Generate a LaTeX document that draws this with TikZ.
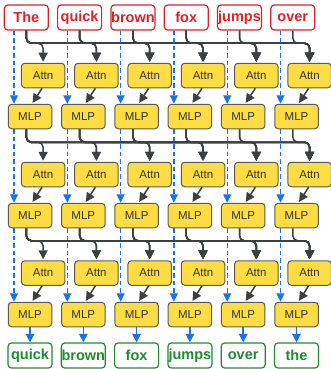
\documentclass[tikz,border=0pt]{standalone}
\usepackage{fontspec}
\setmainfont{Liberation Sans}
\usetikzlibrary{arrows.meta,calc}
\definecolor{tokred}{RGB}{226,32,40}
\definecolor{outgreen}{RGB}{30,140,45}
\definecolor{blkyellow}{RGB}{253,220,68}
\definecolor{blkborder}{RGB}{90,90,90}
\definecolor{linegray}{RGB}{60,64,67}
\definecolor{streamblue}{RGB}{26,115,232}
\tikzset{
  tok/.style={draw=tokred,line width=1.2pt,fill=white,rounded corners=3.5pt,minimum width=44pt,minimum height=25pt,inner sep=0pt,text=tokred,font=\fontsize{14.5}{16}\selectfont\bfseries},
  outbox/.style={tok,draw=outgreen,text=outgreen},
  blk/.style={draw=blkborder,line width=1pt,fill=blkyellow,rounded corners=3.5pt,minimum width=43.5pt,minimum height=24.5pt,inner sep=0pt,text={black!80},font=\fontsize{11.5}{13}\selectfont},
  conn/.style={draw=linegray,line width=1.5pt,rounded corners=5pt,-{Triangle[length=9pt,width=9pt]},shorten >=1pt},
  dsh/.style={draw=streamblue,line width=1.4pt,dash pattern=on 4.5pt off 3pt,-{Triangle[length=8.5pt,width=8pt]}},
  blu/.style={draw=streamblue,line width=1.5pt,-{Triangle[length=8.5pt,width=8.5pt]}}
}
\begin{document}
\begin{tikzpicture}[x=1pt,y=1pt]
\useasboundingbox (0,0) rectangle (330,-369);
\foreach \w [count=\i from 0] in {The,quick,brown,fox,jumps,over} {
  \node[tok] (t\i) at ({26.3+53.3*\i},-17.5) {\w};
}
\foreach \w [count=\i from 0] in {quick,brown,fox,jumps,over,the} {
  \node[outbox] (o\i) at ({30+53.3*\i},-355.5) {\w};
}
\foreach \L/\ya/\ym in {1/-75.5/-116.5, 2/-174.5/-215.5, 3/-273/-314.5} {
  \foreach \i in {0,...,5} {
    \node[blk] (a\L\i) at ({43.1+53.3*\i},\ya) {Attn};
    \node[blk] (m\L\i) at ({30+53.3*\i},\ym) {MLP};
  }
}
\foreach \i in {0,...,5} {
  \coordinate (s1\i) at (t\i.south);
  \coordinate (s2\i) at ($(m1\i.south)+(-3.7,0)$);
  \coordinate (s3\i) at ($(m2\i.south)+(-3.7,0)$);
  \coordinate (d\i) at ($(t\i.south)+(-12.3,0)$);
}
\foreach \L in {1,2,3} {
  \foreach \j in {0,...,5} {
    \coordinate (h\L\j) at ($(a\L\j.north)+(0,19.5)$);
  }
}
\foreach \L in {1,2,3} {
  \foreach \i in {0,...,5} {
    \foreach \j in {\i,...,5} {
      \draw[conn] (s\L\i) |- (h\L\j) -- (a\L\j.north);
    }
    \draw[conn] ([xshift=-1pt]a\L\i.south) -- ([xshift=2pt]m\L\i.north);
  }
}
\foreach \i in {0,...,5} {
  \draw[dsh] (d\i) -- (d\i |- m1\i.north);
  \draw[dsh] (d\i |- m1\i.south) -- (d\i |- m2\i.north);
  \draw[dsh] (d\i |- m2\i.south) -- (d\i |- m3\i.north);
  \draw[blu] (m3\i.south) -- (o\i.north);
}
\end{tikzpicture}
\end{document}
